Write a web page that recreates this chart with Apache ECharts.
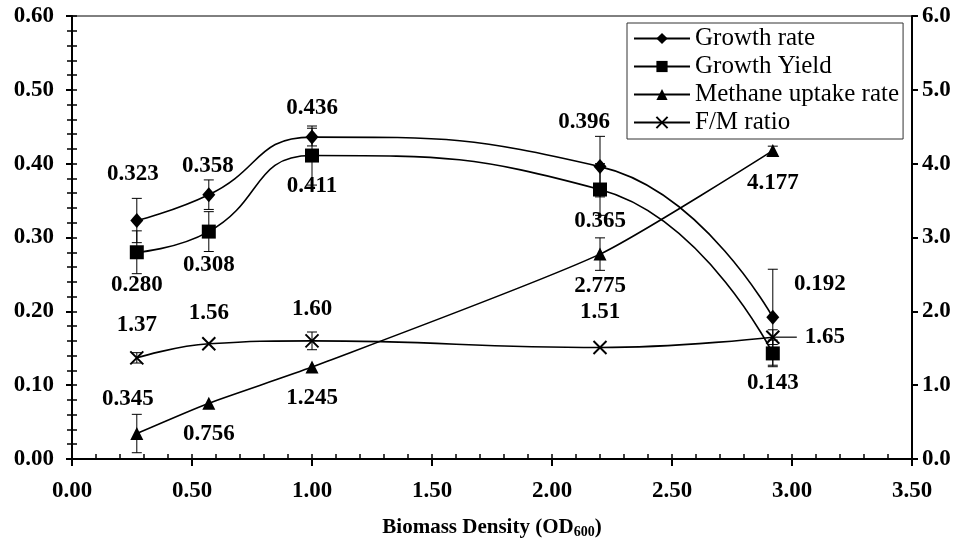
<!DOCTYPE html>
<html>
<head>
<meta charset="utf-8">
<script src="https://cdn.jsdelivr.net/npm/echarts@6/dist/echarts.min.js"></script>
<style>
html,body{margin:0;padding:0;background:#fff;}
#chart{width:967px;height:544px;}
</style>
</head>
<body>
<div id="chart"></div>
<script>
// ---- data ----
const biomassDensity = [0.27, 0.57, 1.00, 2.20, 2.92];
const growthRate = [0.323, 0.358, 0.436, 0.396, 0.192];
const growthRateErr = [0.030, 0.020, 0.012, 0.041, 0.065];
const growthYield = [0.280, 0.308, 0.411, 0.365, 0.143];
const growthYieldErr = [0.029, 0.027, 0.040, 0.035, 0.018];
const methaneUptake = [0.345, 0.756, 1.245, 2.775, 4.177];
const methaneUptakeErr = [0.26, 0, 0, 0.22, 0.06];
const fmRatio = [1.37, 1.56, 1.60, 1.51, 1.65];
const fmRatioErr = [0.07, 0, 0.12, 0, 0.10];
const seriesNames = ['Growth rate', 'Growth Yield', 'Methane uptake rate', 'F/M ratio'];
const xTicks = {min: 0, max: 3.5, interval: 0.5};
const leftTicks = {min: 0, max: 0.6, interval: 0.1};
const rightTicks = {min: 0, max: 6, interval: 1};

// ---- label placement (pixel offsets, styling only) ----
const labelOffsets = {
  rate:    [[-4,-46],[-1,-29],[0,-29],[-16,-45],[47,-33]],
  yield:   [[0,33],[0,33],[0,31],[0,32],[0,30]],
  methane: [[-9,-34],[0,31],[0,31],[0,32],[0,32]],
  fm:      [[0,-33],[0,-31],[0,-32],[0,-35],[52,0]]
};
const fmLeaderIndex = 4;

const FONT = 'Liberation Serif';
const chart = echarts.init(document.getElementById('chart'));

function pts(ys, offs, digits) {
  return biomassDensity.map((x, i) => ({
    value: [x, ys[i]],
    label: {offset: offs[i], formatter: ys[i].toFixed(digits)}
  }));
}
function errData(ys, es) {
  return biomassDensity.map((x, i) => [x, ys[i], es[i], i]);
}
function errRender(params, api) {
  const x = api.value(0), y = api.value(1), e = api.value(2), idx = api.value(3);
  const children = [];
  const st = {stroke: '#000', lineWidth: 1};
  if (e > 0) {
    const t = api.coord([x, y + e]);
    const b = api.coord([x, y - e]);
    const w = 5;
    children.push({type: 'line', shape: {x1: t[0], y1: t[1], x2: b[0], y2: b[1]}, style: st});
    children.push({type: 'line', shape: {x1: t[0]-w, y1: t[1], x2: t[0]+w, y2: t[1]}, style: st});
    children.push({type: 'line', shape: {x1: b[0]-w, y1: b[1], x2: b[0]+w, y2: b[1]}, style: st});
  }
  if (params.seriesName === 'fmErr' && idx === fmLeaderIndex) {
    const p = api.coord([x, y]);
    children.push({type: 'line', shape: {x1: p[0], y1: p[1], x2: p[0] + 24, y2: p[1]}, style: {stroke: '#000', lineWidth: 1.2}});
  }
  return {type: 'group', children};
}

const labelStyle = {
  show: true, position: 'inside', color: '#000', fontFamily: FONT,
  fontWeight: 'bold', fontSize: 23, align: 'center', verticalAlign: 'middle'
};
const axisLabelStyle = {color: '#000', fontFamily: FONT, fontWeight: 'bold', fontSize: 23};

function lineSeries(name, data, yIdx, symbol, size, smooth, extraItem) {
  return {
    name, type: 'line', data, yAxisIndex: yIdx, xAxisIndex: 0,
    symbol, symbolSize: size, smooth,
    lineStyle: {color: '#000', width: 1.6},
    itemStyle: Object.assign({color: '#000'}, extraItem || {}),
    label: labelStyle, z: 3, animation: false
  };
}

const option = {
  backgroundColor: '#fff',
  animation: false,
  grid: {left: 72, right: 55, top: 16, bottom: 81, show: true, borderColor: '#000', borderWidth: 1},
  legend: {
    data: seriesNames,
    orient: 'vertical', left: 627, top: 23,
    backgroundColor: '#fff', borderColor: '#333', borderWidth: 1,
    padding: [3, 4, 4, 6], itemGap: 3, itemWidth: 56, itemHeight: 14,
    textStyle: {color: '#000', fontFamily: FONT, fontSize: 25, lineHeight: 25}
  },
  xAxis: [
    {
      type: 'value', min: xTicks.min, max: xTicks.max, interval: xTicks.interval,
      axisLine: {show: true, onZero: false, lineStyle: {color: '#000', width: 2}},
      axisTick: {show: true, inside: false, length: 7, lineStyle: {color: '#000', width: 2}},
      axisLabel: Object.assign({margin: 21, formatter: v => v.toFixed(2)}, axisLabelStyle),
      splitLine: {show: false},
      name: '{b|Biomass Density (OD}{s|600}{b|)}',
      nameLocation: 'middle', nameGap: 58,
      nameTextStyle: {rich: {
        b: {fontFamily: FONT, fontWeight: 'bold', fontSize: 21, color: '#000'},
        s: {fontFamily: FONT, fontWeight: 'bold', fontSize: 14, color: '#000', verticalAlign: 'bottom', padding: [8, 0, 0, 0]}
      }}
    },
    {
      type: 'value', min: xTicks.min, max: xTicks.max, interval: 0.1, position: 'bottom',
      axisLine: {show: false}, axisLabel: {show: false}, splitLine: {show: false},
      axisTick: {show: true, inside: true, length: 5, lineStyle: {color: '#000', width: 1.5}}
    }
  ],
  yAxis: [
    {
      type: 'value', position: 'left', min: leftTicks.min, max: leftTicks.max, interval: leftTicks.interval,
      axisLine: {show: true, onZero: false, lineStyle: {color: '#000', width: 2}},
      axisTick: {show: true, inside: false, length: 6, lineStyle: {color: '#000', width: 2}},
      axisLabel: Object.assign({margin: 18, formatter: v => v.toFixed(2)}, axisLabelStyle),
      splitLine: {show: false}
    },
    {
      type: 'value', position: 'right', min: rightTicks.min, max: rightTicks.max, interval: rightTicks.interval,
      axisLine: {show: true, onZero: false, lineStyle: {color: '#000', width: 2}},
      axisTick: {show: true, inside: false, length: 6, lineStyle: {color: '#000', width: 2}},
      axisLabel: Object.assign({margin: 10, formatter: v => v.toFixed(1)}, axisLabelStyle),
      splitLine: {show: false}
    },
    {
      type: 'value', position: 'left', min: leftTicks.min, max: leftTicks.max, interval: 0.02,
      axisLine: {show: false}, axisLabel: {show: false}, splitLine: {show: false},
      axisTick: {show: true, inside: true, length: 5, lineStyle: {color: '#000', width: 1.5}}
    },
    {
      type: 'value', position: 'right', min: rightTicks.min, max: rightTicks.max, interval: 0.2,
      axisLine: {show: false}, axisLabel: {show: false}, splitLine: {show: false},
      axisTick: {show: true, inside: true, length: 5, lineStyle: {color: '#000', width: 1.5}}
    }
  ],
  series: [
    {name: 'rateErr', type: 'custom', renderItem: errRender, data: errData(growthRate, growthRateErr), yAxisIndex: 0, encode: {x: 0, y: 1}, z: 1, silent: true},
    {name: 'yieldErr', type: 'custom', renderItem: errRender, data: errData(growthYield, growthYieldErr), yAxisIndex: 0, encode: {x: 0, y: 1}, z: 1, silent: true},
    {name: 'methaneErr', type: 'custom', renderItem: errRender, data: errData(methaneUptake, methaneUptakeErr), yAxisIndex: 1, encode: {x: 0, y: 1}, z: 1, silent: true},
    {name: 'fmErr', type: 'custom', renderItem: errRender, data: errData(fmRatio, fmRatioErr), yAxisIndex: 1, encode: {x: 0, y: 1}, z: 1, silent: true},
    lineSeries(seriesNames[0], pts(growthRate, labelOffsets.rate, 3), 0, 'diamond', [13, 15], 0.5),
    lineSeries(seriesNames[1], pts(growthYield, labelOffsets.yield, 3), 0, 'rect', 14, 0.5),
    lineSeries(seriesNames[2], pts(methaneUptake, labelOffsets.methane, 3), 1, 'triangle', 13, 0.2),
    lineSeries(seriesNames[3], pts(fmRatio, labelOffsets.fm, 2), 1, 'path://M0,0L10,10M10,0L0,10', 13, 0.45, {borderColor: '#000', borderWidth: 2})
  ]
};
chart.setOption(option);
</script>
</body>
</html>
